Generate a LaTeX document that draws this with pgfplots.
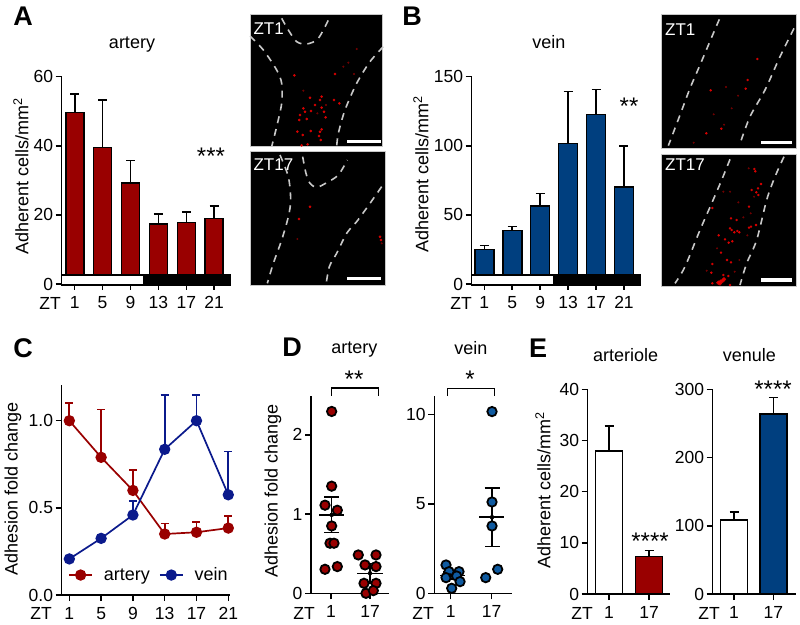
\documentclass[border=0pt]{standalone}
\usepackage{fontspec}
\setmainfont{Liberation Sans}
\usepackage{pgfplots}
\pgfplotsset{compat=1.18}

\definecolor{artred}{HTML}{990000}
\definecolor{veinblue}{HTML}{003F7F}
\definecolor{navy}{HTML}{0B1A8C}
\definecolor{dotblue}{HTML}{0F5AA0}
\definecolor{dashgray}{HTML}{C8C8C8}

\newcommand{\fs}[1]{\fontsize{#1}{#1}\selectfont}
% text placed in picture pixels, y counted from the top
\newcommand{\lab}[4][]{\node[anchor=center,inner sep=0pt,font=\fs{17.5},#1] at (#2pt,624pt-#3pt) {#4};}
\newcommand{\stars}[3]{\node[anchor=center,inner sep=0pt,font=\fs{24}] at (#1pt,621pt-#2pt) {#3};}

\pgfplotsset{
  fig/.style={
    scale only axis, clip=false,
    axis x line=bottom, axis y line=left,
    axis line style={-,line width=1.5pt},
    tick align=outside, major tick length=6pt,
    tick style={line width=1.5pt,black},
    tick label style={font=\fs{17.5}},
    xticklabel style={yshift=-2.5pt},
    yticklabel style={inner xsep=2.5pt},
    every axis title shift=0pt,
    title style={font=\fs{18},anchor=center},
    /pgf/number format/assume math mode=true,
    ymin=0, minor tick num=0,
  },
  ylab/.style 2 args={every axis y label/.style={at={(axis description cs:#1,#2)},rotate=90,anchor=center,font=\fs{18}}},
  barp/.style={ybar, bar width=#1, bar shift=0pt, draw=black, line width=1.6pt,
    error bars/y dir=plus, error bars/y explicit,
    error bars/error bar style={line width=1.6pt,black},
    error bars/error mark options={rotate=90,mark size=4.5pt,line width=1.6pt,black}},
  strip/.style={sharp plot, no marks, line width=1.5pt, draw=black, forget plot},
  lineser/.style={color=#1, line width=1.7pt, mark=*, mark size=4.8pt,
    mark options={fill=#1,draw=#1,solid},
    error bars/y dir=plus, error bars/y explicit,
    error bars/error bar style={line width=1.7pt,#1},
    error bars/error mark options={rotate=90,mark size=4pt,line width=1.7pt,#1}},
  dots/.style={only marks, mark=*, mark size=4.7pt,
    mark options={fill=#1,draw=black,line width=1.8pt}},
  meanl/.style={sharp plot, no marks, line width=1.5pt, black},
  semb/.style={only marks, mark=none,
    error bars/y dir=both, error bars/y explicit,
    error bars/error bar style={line width=1.5pt,black},
    error bars/error mark options={rotate=90,mark size=7.5pt,line width=1.5pt,black}},
  micro/.style={hide axis, scale only axis, clip=false, ymin=0, ymax=900, y dir=reverse},
  rim/.style={sharp plot, no marks, fill=black, draw=dashgray, line width=0.6pt},
  dline/.style={smooth, no marks, color=dashgray, line width=1.6pt, dash pattern=on 7pt off 6pt},
  scalebar/.style={sharp plot, no marks, white, line width=#1},
  reddot/.style={only marks, mark=*, mark size=#1, color=red!85!black, mark options={draw=none}},
  faintdot/.style={only marks, mark=*, mark size=0.8pt, color=red!45!black, mark options={draw=none}},
}

\begin{document}
\begin{tikzpicture}
\useasboundingbox (0,0) rectangle (800pt,624pt);

% A: artery bars
\begin{axis}[fig, at={(61.7pt,340pt)}, anchor=south west, width=169pt, height=207.3pt,
  xmin=-0.466, xmax=5.59, ymax=60,
  xtick={0,1,2,3,4,5}, xticklabels={1,5,9,13,17,21}, ytick={0,20,40,60},
  title={artery}, title style={at={(axis description cs:0.416,1.157)}},
  ylabel={Adherent cells/mm\textsuperscript{2}}, ylab={-0.241}{0.521}]
\addplot[barp=18pt, fill=artred] coordinates {
  (0,49.6) +- (0,5.4) (1,39.5) +- (0,13.7) (2,29.2) +- (0,6.6)
  (3,17.3) +- (0,2.9) (4,17.8) +- (0,3.0) (5,19.0) +- (0,3.6)};
\addplot[strip, fill=white] coordinates {(-0.466,-0.3) (2.48,-0.3) (2.48,2.6) (-0.466,2.6)} --cycle;
\addplot[strip, fill=black] coordinates {(2.48,-0.3) (5.59,-0.3) (5.59,2.6) (2.48,2.6)} --cycle;
\end{axis}

% B: vein bars
\begin{axis}[fig, at={(471.7pt,340pt)}, anchor=south west, width=168.3pt, height=207.3pt,
  xmin=-0.451, xmax=5.573, ymax=150,
  xtick={0,1,2,3,4,5}, xticklabels={1,5,9,13,17,21}, ytick={0,50,100,150},
  title={vein}, title style={at={(axis description cs:0.459,1.167)}},
  ylabel={Adherent cells/mm\textsuperscript{2}}, ylab={-0.301}{0.53}]
\addplot[barp=19pt, fill=veinblue] coordinates {
  (0,25) +- (0,3) (1,38.6) +- (0,2.9) (2,56.4) +- (0,9.2)
  (3,101.8) +- (0,37.6) (4,122.7) +- (0,18.1) (5,70) +- (0,30)};
\addplot[strip, fill=white] coordinates {(-0.451,-0.8) (2.49,-0.8) (2.49,6.5) (-0.451,6.5)} --cycle;
\addplot[strip, fill=black] coordinates {(2.49,-0.8) (5.573,-0.8) (5.573,6.5) (2.49,6.5)} --cycle;
\end{axis}

% C: fold change lines
\begin{axis}[fig, at={(61.7pt,29pt)}, anchor=south west, width=168.5pt, height=210pt,
  xmin=-0.24, xmax=5.06, ymax=1.205,
  xtick={0,1,2,3,4,5}, xticklabels={1,5,9,13,17,21}, ytick={0,0.5,1},
  yticklabel style={/pgf/number format/fixed,/pgf/number format/fixed zerofill,/pgf/number format/precision=1},
  ylabel={Adhesion fold change}, ylab={-0.289}{0.505},
  legend columns=2,
  legend image code/.code={\draw[mark repeat=2,mark phase=2,#1] plot coordinates {(0pt,0pt) (11.5pt,0pt) (23pt,0pt)};},
  legend style={at={(0.02,0.095)},anchor=west,draw=none,fill=none,font=\fs{18},
    /tikz/every even column/.append style={column sep=7pt},
    /tikz/every odd column/.append style={column sep=9pt}}]
\addplot[lineser=artred] coordinates {
  (0,1.0) +- (0,0.10) (1,0.79) +- (0,0.275) (2,0.60) +- (0,0.117)
  (3,0.35) +- (0,0.06) (4,0.36) +- (0,0.06) (5,0.384) +- (0,0.071)};
\addplot[lineser=navy] coordinates {
  (0,0.207) +- (0,0) (1,0.325) +- (0,0) (2,0.459) +- (0,0.081)
  (3,0.836) +- (0,0.311) (4,1.0) +- (0,0.147) (5,0.575) +- (0,0.249)};
\legend{artery,vein}
\end{axis}

% D: artery scatter
\begin{axis}[fig, at={(311pt,30.7pt)}, anchor=south west, width=78.3pt, height=197.3pt,
  xmin=-0.513, xmax=1.495, ymax=2.49,
  xtick={0,1}, xticklabels={1,17}, ytick={0,1,2},
  title={artery}, title style={at={(axis description cs:0.553,1.235)}},
  ylabel={Adhesion fold change}, ylab={-0.485}{0.518}]
\addplot[dots=artred] coordinates {
  (.017,2.295) (.017,1.352) (-.154,1.112) (.162,1.048) (.017,.85) (-.026,.632) (.077,.632) (-.154,.303) (.162,.337)
  (.70,.484) (1.154,.484) (.872,.358) (1.154,.337) (.846,.126) (1.154,.126) (.897,0.0) (1.085,.034)};
\addplot[meanl] coordinates {(-.3,.99) (.33,.99)};
\addplot[meanl] coordinates {(.67,.253) (1.33,.253)};
\addplot[semb] coordinates {(.017,.99) +- (0,.225) (1,.253) +- (0,.12)};
\addplot[sharp plot, no marks, line width=1.5pt, black] coordinates {(.017,2.49) (.017,2.59) (1.214,2.59) (1.214,2.49)};
\end{axis}

% D: vein scatter
\begin{axis}[fig, at={(434.3pt,30.7pt)}, anchor=south west, width=77.4pt, height=197.3pt,
  xmin=-0.4, xmax=1.488, ymax=11.02,
  xtick={0,1}, xticklabels={1,17}, ytick={0,5,10},
  title={vein}, title style={at={(axis description cs:0.474,1.245)}}]
\addplot[dots=dotblue] coordinates {
  (-.114,1.583) (-.04,1.21) (.203,1.21) (-.114,.875) (.146,.968) (.228,.652) (.024,.279)
  (1.008,10.15) (1.008,5.1) (1.008,3.76) (.854,.875) (1.146,1.34)};
\addplot[meanl] coordinates {(-.25,.99) (.34,.99)};
\addplot[meanl] coordinates {(.7,4.25) (1.31,4.25)};
\addplot[semb] coordinates {(0,.99) +- (0,.2) (1.008,4.25) +- (0,1.63)};
\addplot[sharp plot, no marks, line width=1.5pt, black] coordinates {(-.073,11.02) (-.073,11.45) (1.065,11.45) (1.065,11.02)};
\end{axis}

% E: arteriole
\begin{axis}[fig, at={(587.7pt,30pt)}, anchor=south west, width=82.3pt, height=204.7pt,
  xmin=-0.5325, xmax=1.525, ymax=40,
  xtick={0,1}, xticklabels={1,17}, ytick={0,10,20,30,40},
  title={arteriole}, title style={at={(axis description cs:0.462,1.168)}},
  ylabel={Adherent cells/mm\textsuperscript{2}}, ylab={-0.543}{0.508}]
\addplot[barp=27pt, fill=white] coordinates {(0,27.95) +- (0,4.85)};
\addplot[barp=27pt, fill=artred] coordinates {(1,7.3) +- (0,1.2)};
\end{axis}

% E: venule
\begin{axis}[fig, at={(712.7pt,30pt)}, anchor=south west, width=83.3pt, height=204.7pt,
  xmin=-0.542, xmax=1.578, ymax=300,
  xtick={0,1}, xticklabels={1,17}, ytick={0,100,200,300},
  title={venule}, title style={at={(axis description cs:0.439,1.168)}}]
\addplot[barp=27pt, fill=white] coordinates {(0,108.8) +- (0,11.8)};
\addplot[barp=27pt, fill=veinblue] coordinates {(1,264) +- (0,24)};
\end{axis}

% micrographs of A
\begin{axis}[micro, at={(240pt,324pt)}, anchor=south west, width=170pt, height=300pt, xmin=0, xmax=510]
\addplot[rim] coordinates {(30,43) (427,43) (427,438) (30,438)} --cycle;
\addplot[rim] coordinates {(30,455) (435,455) (435,857) (30,857)} --cycle;
\addplot[dline] coordinates {(125,55) (145,90) (170,125) (200,132) (235,115) (270,50)};
\addplot[dline] coordinates {(30,108) (70,150) (110,210) (125,250) (125,310) (110,380) (95,440)};
\addplot[dline] coordinates {(430,140) (390,185) (350,250) (315,330) (295,400) (290,440)};
\addplot[dline] coordinates {(188,470) (198,520) (210,550) (230,562) (260,548) (295,525) (322,480)};
\addplot[dline] coordinates {(120,465) (145,530) (152,600) (145,650) (125,720) (100,790) (82,850)};
\addplot[dline] coordinates {(425,560) (390,610) (350,665) (320,700) (290,760) (268,800) (258,855)};
\addplot[scalebar=2.4pt] coordinates {(322,425) (422,425)};
\addplot[scalebar=2.4pt] coordinates {(322,836) (422,836)};
\addplot[reddot=1.1pt] coordinates {
  (163,226) (210,293) (245,290) (240,300) (282,300) (298,310) (190,325) (225,315) (245,323) (252,335)
  (213,333) (180,345) (195,335) (200,357) (257,352) (178,360) (245,388) (240,395) (172,395) (212,393)
  (188,405) (237,408) (242,420) (185,436) (203,433) (285,222)
  (177,657) (210,620) (420,710) (423,720)};
\addplot[faintdot] coordinates {(350,147) (325,188) (190,272) (310,200) (342,222) (258,315) (232,340) (172,717) (425,730)};
\node[white,font=\fs{17},anchor=west,inner sep=0pt] at (axis cs:40,85) {ZT1};
\node[white,font=\fs{17},anchor=west,inner sep=0pt] at (axis cs:40,495) {ZT17};
\end{axis}

% micrographs of B
\begin{axis}[micro, at={(650pt,324pt)}, anchor=south west, width=150pt, height=300pt, xmin=0, xmax=450]
\addplot[rim] coordinates {(35,42) (438,42) (438,445) (35,445)} --cycle;
\addplot[rim] coordinates {(35,462) (438,462) (438,858) (35,858)} --cycle;
\addplot[dline] coordinates {(208,58) (190,100) (150,195) (120,265) (90,345) (55,437)};
\addplot[dline] coordinates {(432,85) (390,170) (345,270) (300,350) (268,437)};
\addplot[dline] coordinates {(240,478) (215,540) (185,610) (150,690) (105,800) (75,850)};
\addplot[dline] coordinates {(402,470) (375,530) (350,600) (320,720) (290,790) (270,855)};
\addplot[scalebar=3.6pt] coordinates {(333,428) (427,428)};
\addplot[scalebar=3.6pt] coordinates {(333,840) (427,840)};
\addplot[reddot=1.0pt] coordinates {
  (322,177) (293,240) (287,266) (182,271) (214,386) (169,400)
  (313,507) (316,514) (333,552) (324,565) (305,570) (319,577) (325,585)
  (297,620) (187,624) (243,655) (260,660) (297,683) (303,680) (318,675) (240,685)
  (245,690) (253,697) (262,693) (268,697) (206,706) (225,718) (236,728) (247,724) (213,758)
  (231,780) (243,787) (187,792) (184,818) (220,825) (235,828) (187,850) (240,855)};
\addplot[faintdot] coordinates {
  (228,261) (264,287) (245,325) (191,343) (222,374) (131,428)
  (296,505) (312,590) (240,575) (220,575) (265,607) (280,652) (302,640) (292,706) (201,745)
  (170,812) (254,815) (268,780)};
\addplot[reddot=1.9pt] coordinates {(205,848) (212,845) (218,842) (222,838) (210,850)};
\node[white,font=\fs{17},anchor=west,inner sep=0pt] at (axis cs:45,88) {ZT1};
\node[white,font=\fs{17},anchor=west,inner sep=0pt] at (axis cs:45,495) {ZT17};
\end{axis}

% panel letters
\lab[font=\fs{27}\bfseries]{23}{16}{A}
\lab[font=\fs{27}\bfseries]{412}{16}{B}
\lab[font=\fs{27}\bfseries]{23}{348}{C}
\lab[font=\fs{27}\bfseries]{292}{347}{D}
\lab[font=\fs{27}\bfseries]{538}{348}{E}

% ZT in front of the tick labels
\lab{50}{303}{ZT}
\lab{461}{303}{ZT}
\lab{41}{613}{ZT}
\lab{304}{613}{ZT}
\lab{423}{613}{ZT}
\lab{582}{613}{ZT}
\lab{709}{613}{ZT}

% significance stars
\stars{211}{153}{***}
\stars{629}{103}{**}
\stars{354}{376}{**}
\stars{470}{376}{*}
\stars{650}{538}{****}
\stars{773}{386}{****}
\end{tikzpicture}
\end{document}
